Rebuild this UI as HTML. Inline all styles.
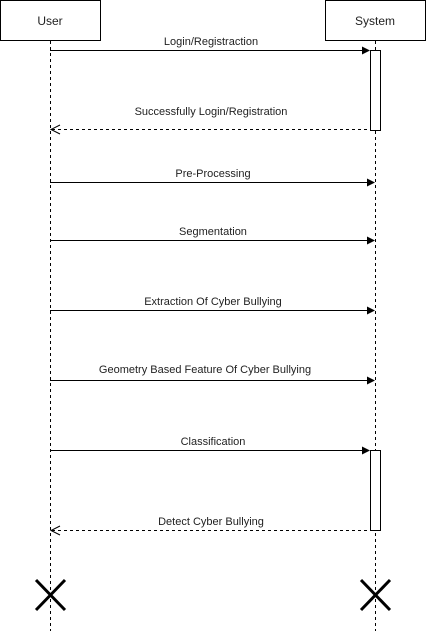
<!DOCTYPE html>
<html><head><style>body{margin:0;background:#fff}</style></head><body>
<svg width="426" height="631" xmlns="http://www.w3.org/2000/svg" font-family="Liberation Sans, sans-serif" font-size="11" fill="#222">
<rect x="0.5" y="0.5" width="100" height="40" fill="#fff" stroke="#000"/>
<rect x="325.5" y="0.5" width="100" height="40" fill="#fff" stroke="#000"/>
<text x="50" y="25" text-anchor="middle" font-size="12">User</text>
<text x="375" y="25" text-anchor="middle" font-size="12">System</text>
<g stroke="#000" stroke-dasharray="3,3">
<line x1="50.5" y1="41" x2="50.5" y2="631"/>
<line x1="375.5" y1="41" x2="375.5" y2="631"/>
</g>
<rect x="370.5" y="50.5" width="10" height="80" fill="#fff" stroke="#000"/>
<rect x="370.5" y="450.5" width="10" height="80" fill="#fff" stroke="#000"/>
<g stroke="#000">
<line x1="50" y1="50.5" x2="364" y2="50.5"/>
<line x1="50" y1="182.5" x2="368" y2="182.5"/>
<line x1="50" y1="240.5" x2="368" y2="240.5"/>
<line x1="50" y1="310.5" x2="368" y2="310.5"/>
<line x1="50" y1="380.5" x2="368" y2="380.5"/>
<line x1="50" y1="450.5" x2="364" y2="450.5"/>
<line x1="52" y1="129.5" x2="370" y2="129.5" stroke-dasharray="3,3"/>
<line x1="52" y1="530.5" x2="370" y2="530.5" stroke-dasharray="3,3"/>
<polyline points="60,125 51,129.5 60,134" fill="none"/>
<polyline points="60,526 51,530.5 60,535" fill="none"/>
<line x1="36" y1="580" x2="65" y2="610" stroke-width="3"/>
<line x1="65" y1="580" x2="36" y2="610" stroke-width="3"/>
<line x1="361" y1="580" x2="390" y2="610" stroke-width="3"/>
<line x1="390" y1="580" x2="361" y2="610" stroke-width="3"/>
</g>
<g fill="#000">
<polygon points="370,50.5 362,46.5 362,54.5"/>
<polygon points="375,182.5 367,178.5 367,186.5"/>
<polygon points="375,240.5 367,236.5 367,244.5"/>
<polygon points="375,310.5 367,306.5 367,314.5"/>
<polygon points="375,380.5 367,376.5 367,384.5"/>
<polygon points="370,450.5 362,446.5 362,454.5"/>
</g>
<g text-anchor="middle">
<text x="211" y="45">Login/Registraction</text>
<text x="211" y="115">Successfully Login/Registration</text>
<text x="213" y="177">Pre-Processing</text>
<text x="213" y="235">Segmentation</text>
<text x="213" y="305">Extraction Of Cyber Bullying</text>
<text x="205" y="373">Geometry Based Feature Of Cyber Bullying</text>
<text x="213" y="445">Classification</text>
<text x="211" y="525">Detect Cyber Bullying</text>
</g>
</svg>
</body></html>
